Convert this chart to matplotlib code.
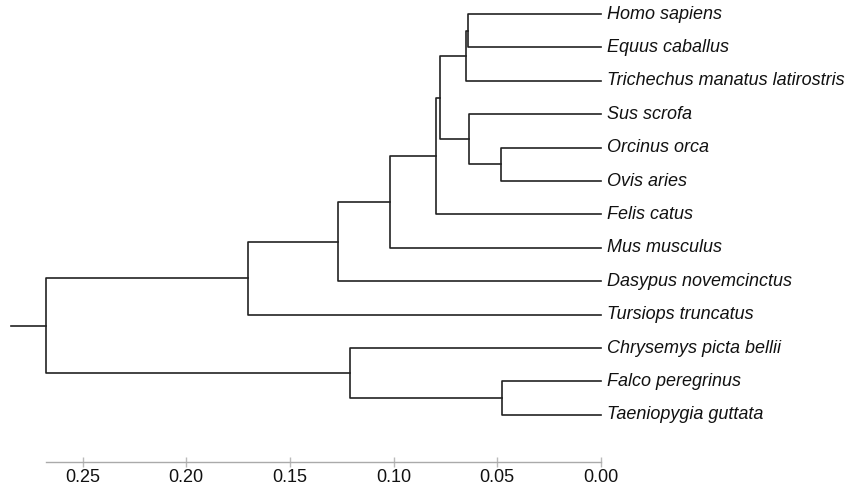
import matplotlib
matplotlib.use('Agg')
import matplotlib.pyplot as plt

# leaves, top to bottom
leaves = ["Homo sapiens", "Equus caballus", "Trichechus manatus latirostris",
          "Sus scrofa", "Orcinus orca", "Ovis aries", "Felis catus",
          "Mus musculus", "Dasypus novemcinctus", "Tursiops truncatus",
          "Chrysemys picta bellii", "Falco peregrinus", "Taeniopygia guttata"]

# merges, linkage style: ids < 13 are leaves, 13+ are earlier merges
merge_left = [0, 13, 4, 3, 14, 17, 18, 19, 20, 11, 10, 21]
merge_right = [1, 2, 5, 15, 16, 6, 7, 8, 9, 12, 22, 23]
merge_height = [0.0640, 0.0652, 0.0482, 0.0636, 0.0778, 0.0797,
                0.1016, 0.1267, 0.1702, 0.0477, 0.1210, 0.2674]
root_stub = 0.2845

xticks = [0.25, 0.20, 0.15, 0.10, 0.05, 0.00]

plt.rcParams['font.family'] = ['Liberation Sans', 'DejaVu Sans']

fig = plt.figure(figsize=(8.51, 4.90), dpi=100)
ax = fig.add_axes([0, 28 / 490, 1, 462 / 490])

n = len(leaves)
pos = {i: (0.0, float(i)) for i in range(n)}  # id -> (height, y)
line_kw = dict(color='#222222', lw=1.2, solid_capstyle='projecting')

for k, (a, b, h) in enumerate(zip(merge_left, merge_right, merge_height)):
    ha_, ya = pos[a]
    hb_, yb = pos[b]
    ax.plot([ha_, h, h, hb_], [ya, ya, yb, yb], **line_kw)
    pos[n + k] = (h, (ya + yb) / 2)

root_h, root_y = pos[n + len(merge_height) - 1]
ax.plot([root_stub, root_h], [root_y, root_y], **line_kw)

for i, name in enumerate(leaves):
    ax.annotate(name, (0, i), xytext=(4.5, 0), textcoords='offset points',
                va='center', ha='left', style='italic', fontsize=13,
                color='#111111')

# pixel mapping: x = 601 - 2074 * v
ax.set_xlim(601 / 2074, (601 - 851) / 2074)
ax.set_ylim((462 - 14) / 33.4, -14 / 33.4)

for side in ['top', 'right', 'left']:
    ax.spines[side].set_visible(False)
ax.spines['bottom'].set_color('#aaaaaa')
ax.spines['bottom'].set_linewidth(1.0)
ax.spines['bottom'].set_bounds(0, root_h)

ax.set_yticks([])
ax.set_xticks(xticks)
ax.set_xticklabels([f'{t:.2f}' for t in xticks])
ax.tick_params(axis='x', direction='inout', length=7.5, width=1.0,
               color='#bbbbbb', labelsize=13, labelcolor='#111111', pad=1)

fig.savefig('out.png', dpi=100)
